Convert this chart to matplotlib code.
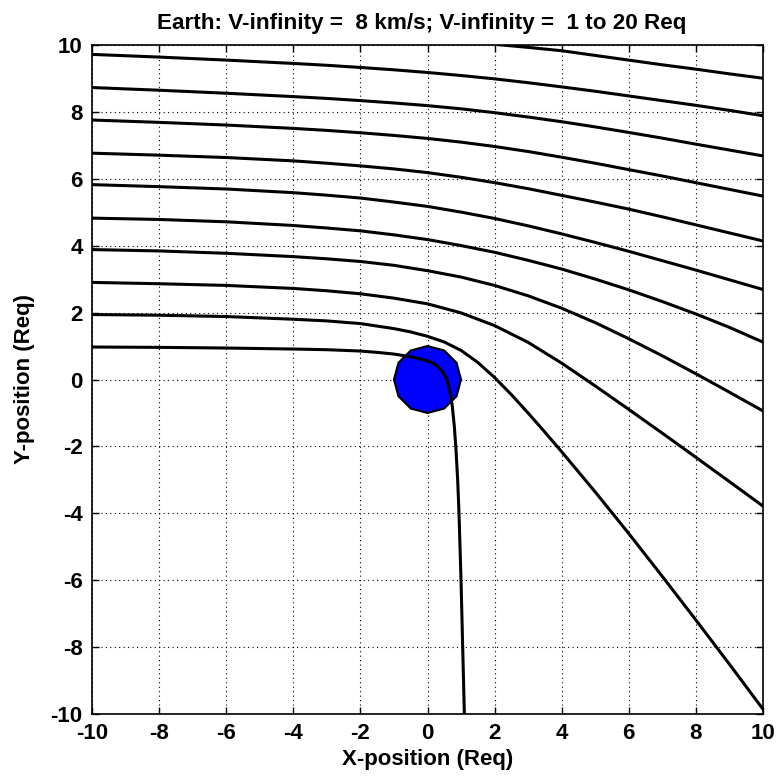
import matplotlib
matplotlib.use("Agg")
import matplotlib.pyplot as plt
from matplotlib.patches import RegularPolygon

plt.rcParams["font.family"] = ["Liberation Sans", "DejaVu Sans"]
plt.rcParams["font.weight"] = "bold"
plt.rcParams["axes.unicode_minus"] = False

# flyby trajectories, impact parameter b (Req), positions in Req
b1_x = [-10, -8, -6, -4, -3, -2, -1.5, -1, -0.5, 0, 0.25, 0.45, 0.58, 0.67, 0.74, 0.8, 0.85, 0.9, 0.94, 0.97, 1.0, 1.05, 1.1]
b1_y = [0.97, 0.96, 0.94, 0.91, 0.89, 0.85, 0.81, 0.76, 0.68, 0.56, 0.44, 0.24, 0.0, -0.35, -0.8, -1.4, -2.1, -3.0, -4.0, -5.0, -6.0, -8.0, -10.0]

b2_x = [-10, -8, -6, -4, -3, -2, -1, -0.5, 0, 0.5, 1.0, 1.5, 2.0, 2.5, 3.0, 3.5, 4, 5, 6, 7, 8, 9, 10]
b2_y = [1.94, 1.92, 1.88, 1.80, 1.75, 1.67, 1.52, 1.42, 1.29, 1.12, 0.87, 0.51, 0.06, -0.45, -1.0, -1.57, -2.155, -3.355, -4.595, -5.875, -7.175, -8.495, -9.835]

b3_x = [-10, -8, -6, -4, -3, -2, -1, 0, 1, 2, 3, 4, 5, 6, 7, 8, 9, 10]
b3_y = [2.90, 2.86, 2.81, 2.72, 2.65, 2.56, 2.43, 2.26, 1.99, 1.61, 1.11, 0.49, -0.19, -0.89, -1.60, -2.32, -3.045, -3.775]

x_fine = [-10, -8, -6, -4, -3, -2, -1, 0, 1, 2, 3, 4, 5, 6, 7, 8, 9, 10]
b4_y = [3.88, 3.84, 3.77, 3.67, 3.605, 3.525, 3.41, 3.25, 3.06, 2.81, 2.50, 2.13, 1.70, 1.22, 0.71, 0.175, -0.375, -0.935]
b5_y = [4.82, 4.78, 4.71, 4.60, 4.525, 4.44, 4.32, 4.18, 4.00, 3.80, 3.56, 3.30, 3.00, 2.68, 2.33, 1.96, 1.56, 1.12]
b6_y = [5.82, 5.76, 5.69, 5.58, 5.505, 5.42, 5.30, 5.17, 5.00, 4.81, 4.59, 4.35, 4.095, 3.83, 3.55, 3.27, 2.98, 2.69]
b7_y = [6.76, 6.70, 6.63, 6.53, 6.46, 6.38, 6.29, 6.18, 6.04, 5.88, 5.70, 5.50, 5.30, 5.09, 4.86, 4.62, 4.38, 4.14]
b8_y = [7.75, 7.68, 7.60, 7.50, 7.44, 7.37, 7.29, 7.20, 7.09, 6.96, 6.81, 6.64, 6.46, 6.27, 6.08, 5.88, 5.68, 5.48]
b9_y = [8.72, 8.64, 8.55, 8.45, 8.395, 8.33, 8.26, 8.18, 8.085, 7.97, 7.84, 7.70, 7.545, 7.38, 7.21, 7.03, 6.855, 6.68]
b10_y = [9.71, 9.63, 9.54, 9.44, 9.385, 9.32, 9.25, 9.17, 9.08, 8.98, 8.865, 8.74, 8.61, 8.47, 8.33, 8.19, 8.04, 7.88]

b11_x = [2.12, 3, 4, 5, 6, 7, 8, 9, 10]
b11_y = [10.0, 9.92, 9.82, 9.68, 9.54, 9.40, 9.27, 9.13, 9.0]

earth_radius = 1.0

fig = plt.figure(figsize=(7.77, 7.79), dpi=100)
ax = fig.add_axes([92.3 / 777, (779 - 714.3) / 779, 670.4 / 777, 669.6 / 779])

ax.add_patch(RegularPolygon((0, 0), numVertices=12, radius=earth_radius,
                            orientation=0, facecolor="#0000ff",
                            edgecolor="black", linewidth=1.5, zorder=2))

trajectories = [(b1_x, b1_y), (b2_x, b2_y), (b3_x, b3_y), (x_fine, b4_y),
                (x_fine, b5_y), (x_fine, b6_y), (x_fine, b7_y), (x_fine, b8_y),
                (x_fine, b9_y), (x_fine, b10_y), (b11_x, b11_y)]
for tx, ty in trajectories:
    ax.plot(tx, ty, color="black", linewidth=2.2, solid_joinstyle="round", zorder=3)

ax.set_xlim(-10, 10)
ax.set_ylim(-10, 10)
ax.set_xticks(range(-10, 11, 2))
ax.set_yticks(range(-10, 11, 2))
ax.grid(True, color="black", linestyle=(0, (1, 3)), linewidth=0.8)
ax.tick_params(direction="in", length=5, width=1, top=True, right=True, labelsize=16)
ax.tick_params(axis="x", pad=6)
ax.tick_params(axis="y", pad=7)
for s in ax.spines.values():
    s.set_linewidth(1.2)

ax.set_title("Earth: V-infinity =  8 km/s; V-infinity =  1 to 20 Req",
             fontsize=16.2, fontweight="bold", pad=11, x=0.492)
ax.set_xlabel("X-position (Req)", fontsize=16, fontweight="bold", labelpad=4)
ax.set_ylabel("Y-position (Req)", fontsize=16, fontweight="bold", labelpad=11)

fig.savefig("out.png", dpi=100)
